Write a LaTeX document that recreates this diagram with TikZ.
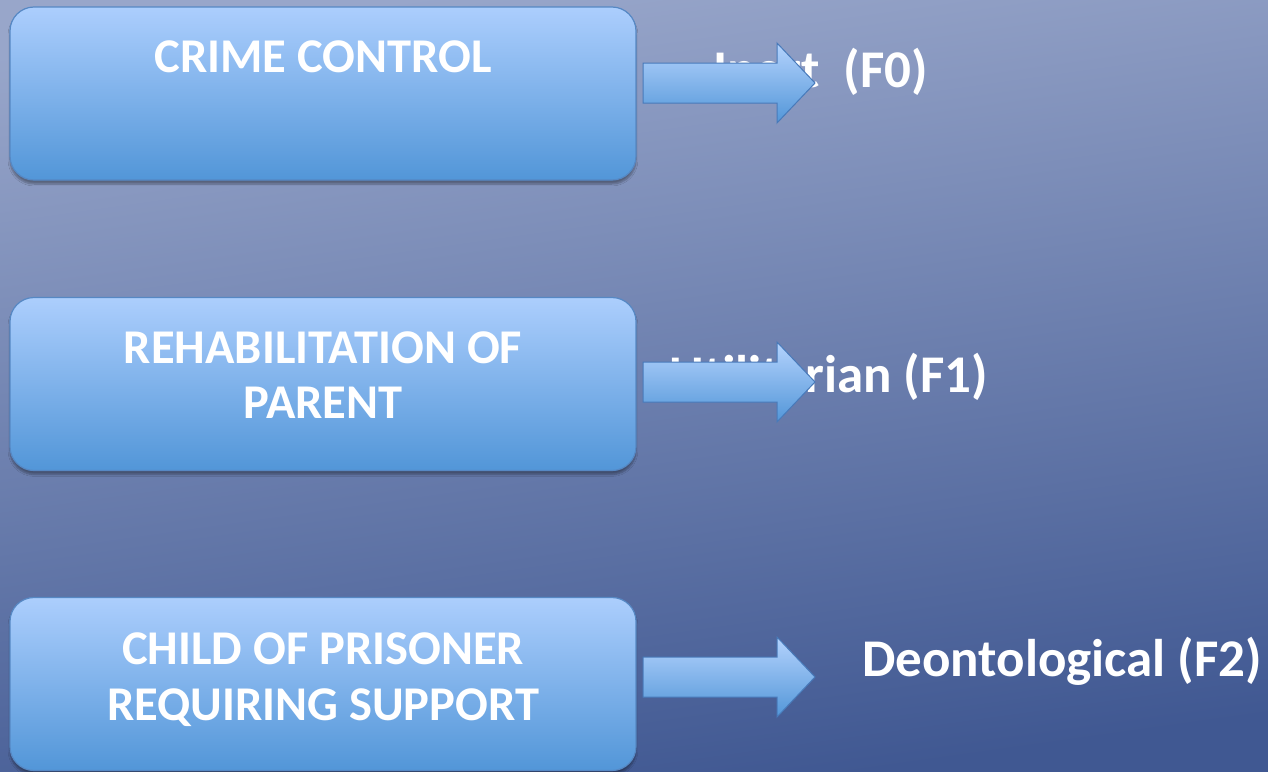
\documentclass[tikz,border=0pt]{standalone}
\usepackage{fontspec}
\setmainfont{Carlito}
\usetikzlibrary{shadows.blur}
\definecolor{bgtop}{RGB}{152,166,202}
\definecolor{bgbot}{RGB}{64,88,146}
\definecolor{boxtop}{RGB}{172,206,253}
\definecolor{boxbot}{RGB}{82,150,216}
\definecolor{boxline}{RGB}{86,136,196}
\definecolor{arrline}{RGB}{72,122,186}
\tikzset{
  stagebox/.style={draw=boxline, line width=1.2pt, rounded corners=24pt,
    top color=boxtop, bottom color=boxbot, minimum width=626pt,
    minimum height=173pt, inner sep=0pt,
    blur shadow={shadow xshift=0pt, shadow yshift=-4pt, shadow blur steps=6, shadow opacity=35}},
  boxtext/.style={text=white, font=\bfseries\fontsize{48.5}{58}\selectfont, inner sep=0pt, anchor=base},
  labeltext/.style={text=white, font=\bfseries\fontsize{53}{60}\selectfont, inner sep=0pt},
  blockarrow/.style={draw=arrline, line width=1pt, top color=boxtop!90!white, bottom color=boxbot, line join=miter}
}
\begin{document}
\begin{tikzpicture}[x=1pt,y=-1pt]
\useasboundingbox (0,0) rectangle (1268,771);
\shade[top color=bgtop, bottom color=bgbot, shading angle=8] (0,0) rectangle (1268,771);
% boxes
\node[stagebox] (b1) at (323,93.5) {};
\node[stagebox] (b2) at (323,384) {};
\node[stagebox] (b3) at (323,684) {};
\node[boxtext] (t1) at (323,72) {CRIME CONTROL};
\node[boxtext] (t2a) at (323,363) {REHABILITATION OF};
\node[boxtext] (t2b) at (323,418) {PARENT};
\node[boxtext] (t3a) at (323,664) {CHILD OF PRISONER};
\node[boxtext] (t3b) at (323,720) {REQUIRING SUPPORT};
% labels
\node[labeltext, anchor=base east] (l0) at (928,87) {Inert\ \ (F0)};
\node[labeltext, anchor=base east] (l1) at (988,392) {Utilitarian (F1)};
\node[labeltext, anchor=base west] (l2) at (862,676) {Deontological (F2)};
% arrows
\coordinate (a0) at (643,83);
\coordinate (a1) at (643,382);
\coordinate (a2) at (643,677);
\foreach \a in {a0,a1,a2}{
  \draw[blockarrow] (\a) ++(0,-20) -- ++(134,0) -- ++(0,-20) -- ++(38,40) -- ++(-38,40) -- ++(0,-20) -- ++(-134,0) -- cycle;
}
\end{tikzpicture}
\end{document}
